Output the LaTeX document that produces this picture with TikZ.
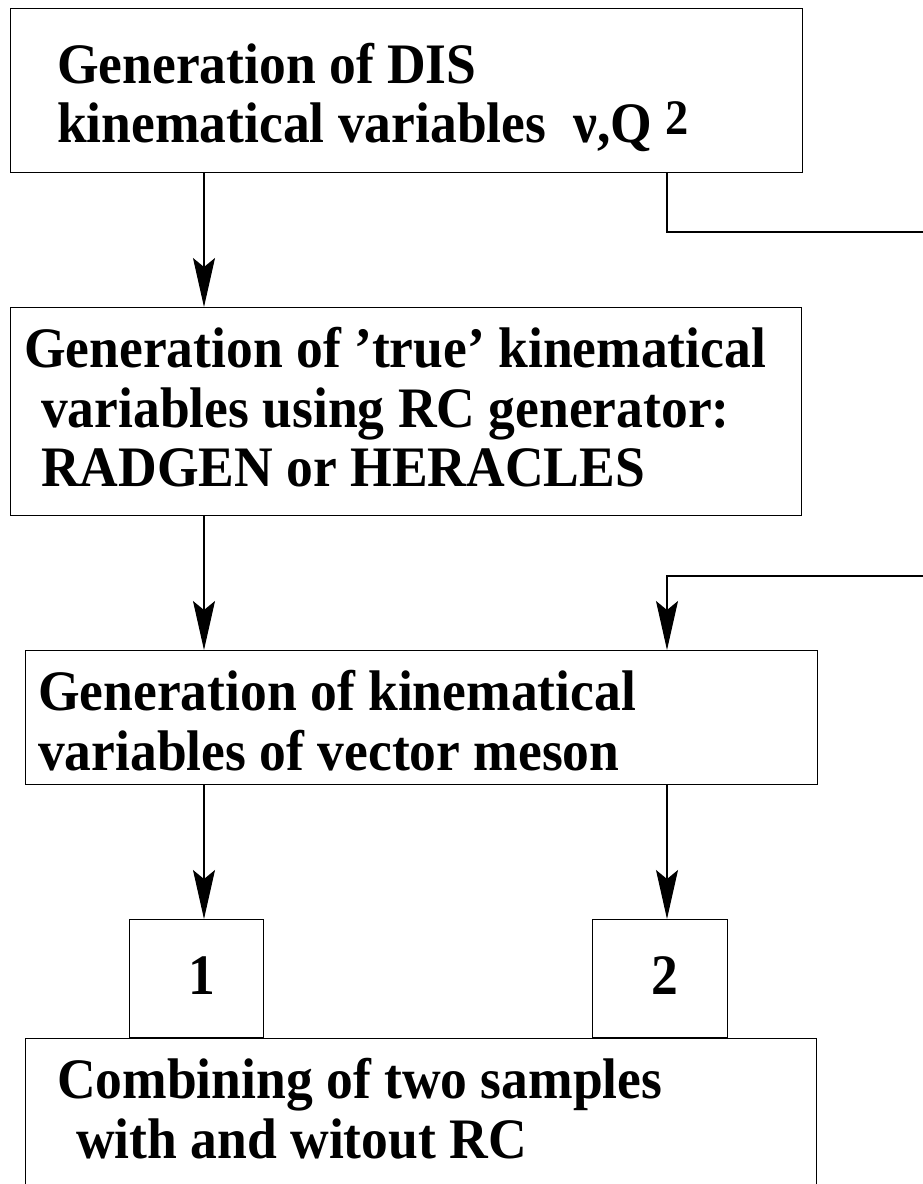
\documentclass[tikz,border=0pt]{standalone}
\usepackage{fontspec}
\usepackage{graphicx}
\setmainfont{Liberation Serif}
\usetikzlibrary{arrows.meta}
\newcommand\tallt[1]{\scalebox{1.01}[1.08]{#1}}
\begin{document}
\begin{tikzpicture}[x=1pt,y=-1pt,
  box/.style={draw, line width=1.4pt, rectangle, inner sep=0pt, anchor=north west},
  txt/.style={anchor=base west, inner sep=0pt, font=\fontsize{53}{59}\bfseries\selectfont},
  conn/.style={line width=1.1pt},
  arr/.style={conn, -{Stealth[length=49pt,width=22pt,inset=9pt]}}]
\useasboundingbox (0,0) rectangle (923,1184);
\clip (0,0) rectangle (923,1184);
% boxes
\node[box, minimum width=792pt, minimum height=164pt] (b1) at (10,8) {};
\node[box, minimum width=791pt, minimum height=208pt] (b2) at (10,307) {};
\node[box, minimum width=792pt, minimum height=134pt] (b3) at (25,650) {};
\node[box, minimum width=134pt, minimum height=118pt] (s1) at (129,919) {};
\node[box, minimum width=135pt, minimum height=118pt] (s2) at (592,919) {};
\node[box, minimum width=791pt, minimum height=170pt] (b4) at (25,1038) {};
% texts
\node[txt] (t1a) at (57,83) {\tallt{Generation of DIS}};
\node[txt] (t1b) at (57,142) {\tallt{kinematical variables\hspace{0.5em}ν,Q\hspace{0.25em}\raisebox{7pt}{\fontsize{46}{46}\selectfont 2}}};
\node[txt] (t2a) at (24,367) {\tallt{Generation of ’true’ kinematical}};
\node[txt] (t2b) at (41,427) {\tallt{variables using RC generator:}};
\node[txt] (t2c) at (41,486) {\tallt{RADGEN or HERACLES}};
\node[txt] (t3a) at (38,710) {\tallt{Generation of kinematical}};
\node[txt] (t3b) at (38,770) {\tallt{variables of vector meson}};
\node[txt, anchor=base] (n1) at (202,994) {\tallt{1}};
\node[txt, anchor=base] (n2) at (665,994) {\tallt{2}};
\node[txt] (t4a) at (57,1098) {\tallt{Combining of two samples}};
\node[txt] (t4b) at (76,1158) {\tallt{with and witout RC}};
% connectors
\coordinate (xl) at (204,0);
\coordinate (xr) at (667,0);
\coordinate (e1) at (923,232);
\coordinate (e2) at (923,576);
\draw[arr] (b1.south -| xl) -- (b2.north -| xl);
\draw[arr] (b2.south -| xl) -- (b3.north -| xl);
\draw[arr] (b3.south -| xl) -- (s1.north -| xl);
\draw[arr] (b3.south -| xr) -- (s2.north -| xr);
\draw[conn] (b1.south -| xr) |- (e1);
\draw[arr] (e2) -| (b3.north -| xr);
\end{tikzpicture}
\end{document}
